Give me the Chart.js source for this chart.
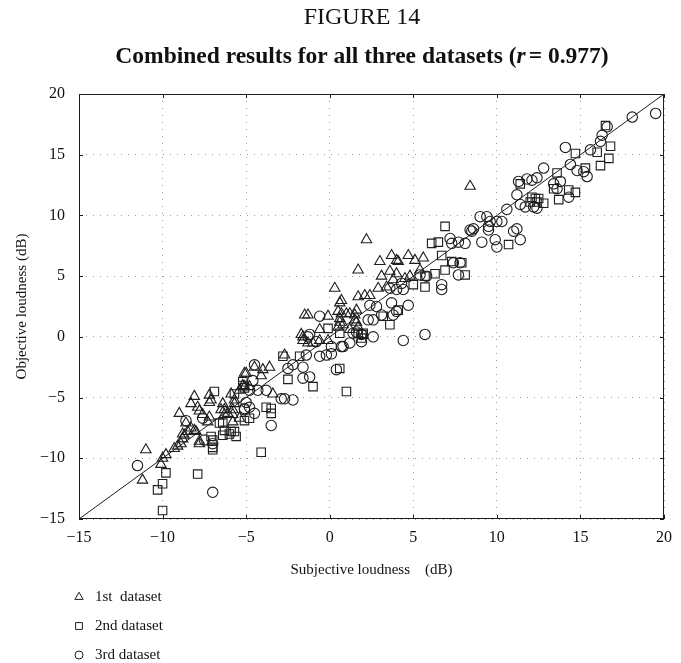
<!DOCTYPE html>
<html>
<head>
<meta charset="utf-8">
<script src="https://cdn.jsdelivr.net/npm/chart.js@4.4.1/dist/chart.umd.min.js"></script>
<style>
  html, body { margin: 0; padding: 0; background: #fff; }
  #wrap { position: relative; width: 681px; height: 663px; }
</style>
</head>
<body>
<div id="wrap"><canvas id="chart" width="681" height="663"></canvas></div>
<script>
// Valeurs : [subjectif, objectif] en dB
const FIGURE_LABEL = "FIGURE 14";
const TITLE_START = "Combined results for all three datasets (";
const TITLE_R = "r";
const TITLE_END = "= 0.977)";
const X_TITLE = "Subjective loudness    (dB)";
const Y_TITLE = "Objective loudness (dB)";
const LEGEND_LABELS = ["1st  dataset", "2nd dataset", "3rd dataset"];
const X_TICKS = [-15, -10, -5, 0, 5, 10, 15, 20];
const Y_TICKS = [-15, -10, -5, 0, 5, 10, 15, 20];
const DIAGONAL = [-15, 20];

const dataset1 = [
  [-11.0, -9.3], [-11.2, -11.8], [-10.0, -10.0], [-10.1, -10.5], [-9.8, -9.7], [-9.3, -9.2],
  [-9.1, -9.0], [-8.9, -8.8], [-8.8, -8.4], [-8.7, -8.1], [-8.5, -7.8], [-8.3, -7.5],
  [-8.1, -4.9], [-8.3, -5.5], [-9.0, -6.3], [-7.9, -5.8], [-7.8, -6.1], [-7.6, -6.4],
  [-7.2, -6.6], [-7.3, -7.0], [-8.0, -7.8], [-7.8, -8.8], [-7.2, -4.8], [-7.1, -5.2],
  [-6.4, -5.5], [-6.3, -6.0], [-6.1, -6.3], [-5.8, -6.0], [-5.7, -5.5], [-5.8, -7.0],
  [-5.1, -3.0], [-5.1, -4.1], [-1.5, 1.8], [-1.3, 1.8], [0.6, 2.8], [0.7, 1.9], [0.6, 1.2],
  [1.2, 1.9], [1.5, 1.8], [1.6, 1.2], [1.7, 0.8], [-0.6, 0.6], [-1.6, 0.0], [-1.3, -0.5],
  [-1.0, -0.5], [-2.7, -1.5], [-4.5, -2.5], [-5.0, -3.0], [-4.0, -2.7], [-3.6, -2.5],
  [-4.1, -3.2], [-5.2, -4.0], [-4.8, -4.1], [-5.4, -4.4], [-7.2, -5.4], [-5.9, -4.7],
  [-5.7, -5.2], [-6.5, -6.0], [-6.3, -6.4], [-5.8, -6.4], [-5.4, -6.7], [-8.6, -7.1],
  [-8.1, -7.7], [-8.8, -8.0], [-7.8, -8.6], [-3.4, -4.7], [2.2, 8.0], [1.7, 5.5], [0.3, 4.0],
  [0.7, 3.0], [1.7, 3.3], [2.1, 3.4], [2.4, 3.4], [3.0, 6.2], [3.7, 6.7], [4.0, 6.3],
  [4.1, 6.2], [4.7, 6.7], [5.1, 6.3], [5.6, 6.5], [3.1, 5.0], [3.6, 5.4], [4.0, 5.2],
  [2.9, 4.0], [3.4, 4.1], [3.8, 4.7], [4.5, 4.8], [4.8, 5.0], [5.4, 5.5], [0.5, 2.1],
  [1.0, 1.9], [1.6, 2.2], [-0.1, 1.7], [0.6, 1.5], [1.5, 1.4], [0.5, 0.8], [0.8, 1.0],
  [1.2, 0.6], [-1.7, 0.2], [-1.6, -0.3], [-0.6, -0.3], [-0.1, -0.3], [8.4, 12.4]
];

const dataset2 = [
  [-10.0, -14.3], [-10.3, -12.6], [-10.0, -12.1], [-9.8, -11.2], [-7.9, -11.3], [-7.0, -9.3],
  [-7.0, -8.5], [-6.9, -4.5], [-6.6, -7.1], [-6.4, -8.1], [-6.3, -7.7], [-6.0, -8.0],
  [-5.7, -7.8], [-5.6, -8.2], [-5.7, -4.7], [-5.2, -4.0], [-5.1, -6.9], [-2.8, -1.6],
  [-5.2, -3.7], [-5.1, -4.2], [-2.5, -3.5], [-1.0, -4.1], [0.6, -2.6], [1.0, -4.5],
  [1.7, 0.3], [2.0, 0.2], [-0.1, 0.7], [-1.8, -1.6], [-3.8, -5.8], [-3.5, -5.9], [-3.5, -6.3],
  [-4.8, -6.7], [-6.4, -7.1], [-5.9, -7.8], [-7.1, -8.2], [-7.0, -9.1], [-4.1, -9.5],
  [6.9, 9.1], [6.1, 7.7], [6.5, 7.8], [6.7, 6.7], [7.3, 6.2], [7.9, 6.1], [5.7, 5.0],
  [6.3, 5.2], [6.9, 5.5], [8.1, 5.1], [5.0, 4.3], [5.7, 4.1], [3.2, 1.7], [3.6, 1.0],
  [4.1, 2.2], [0.6, 0.3], [2.0, 0.3], [1.9, -0.1], [16.8, 15.7], [16.7, 14.7], [16.2, 14.1],
  [14.7, 15.1], [16.0, 15.2], [15.3, 13.9], [11.4, 12.6], [13.6, 13.5], [13.4, 12.2],
  [14.3, 12.1], [14.7, 11.9], [13.7, 11.3], [12.8, 11.0], [12.1, 11.5], [12.3, 11.4],
  [12.5, 11.4], [12.0, 11.1], [12.4, 11.1], [10.7, 7.6], [16.5, 17.4]
];

const dataset3 = [
  [-11.5, -10.6], [-8.6, -6.9], [-7.5, -8.5], [-7.0, -8.8], [-7.0, -12.8], [-5.1, -6.0],
  [-0.6, 1.7], [-1.3, 0.0], [-0.8, -0.4], [-1.4, -1.5], [-0.6, -1.6], [-0.2, -1.5],
  [0.1, -1.4], [0.7, -0.8], [1.2, -0.5], [1.9, -0.4], [2.4, 2.6], [-4.5, -2.3], [-2.5, -2.6],
  [-2.2, -2.3], [-1.6, -2.5], [-1.6, -3.4], [-1.2, -3.3], [0.4, -2.7], [-4.6, -3.6],
  [-4.8, -4.4], [-4.3, -4.4], [-3.8, -4.4], [-2.9, -5.1], [-2.7, -5.1], [-2.2, -5.2],
  [-5.1, -5.9], [-5.0, -5.4], [-4.8, -5.8], [-3.5, -7.3], [-7.6, -6.7], [-4.5, -6.3],
  [9.0, 9.9], [9.4, 9.9], [8.5, 8.7], [8.1, 7.7], [9.1, 7.8], [9.5, 8.8], [7.3, 7.7],
  [7.7, 7.8], [7.2, 8.1], [7.4, 6.1], [7.8, 6.1], [7.7, 5.1], [6.7, 4.3], [6.7, 3.9],
  [5.4, 5.1], [5.8, 5.0], [4.3, 4.4], [3.6, 4.0], [4.0, 3.9], [4.4, 3.9], [2.8, 2.5],
  [3.7, 2.8], [4.7, 2.6], [3.8, 1.8], [4.0, 2.1], [3.1, 1.8], [2.6, 1.4], [2.3, 1.4],
  [2.6, 0.0], [4.4, -0.3], [5.7, 0.2], [1.4, 0.3], [1.6, 0.4], [1.9, 0.2], [0.1, -0.8],
  [0.8, -0.8], [-1.2, 0.2], [14.1, 15.6], [15.6, 15.4], [16.2, 16.1], [12.8, 13.9],
  [12.4, 13.1], [11.8, 13.0], [11.3, 12.8], [12.1, 12.9], [14.4, 14.2], [14.8, 13.7],
  [15.2, 13.6], [15.4, 13.2], [13.4, 12.6], [13.8, 12.8], [13.6, 12.2], [14.3, 11.5],
  [11.2, 11.7], [11.4, 10.9], [11.7, 10.7], [12.2, 10.7], [12.4, 10.6], [10.6, 10.5],
  [9.6, 9.5], [10.0, 9.5], [10.3, 9.5], [8.4, 8.8], [8.6, 8.9], [9.5, 9.1], [11.2, 8.9],
  [11.0, 8.7], [11.4, 8.0], [9.9, 8.0], [10.0, 7.4], [19.5, 18.4], [18.1, 18.1],
  [16.6, 17.3], [16.3, 16.6]
];

const INK = "#1e1e1e";
const SERIF = "'Liberation Serif', 'Times New Roman', serif";
const TITLE_CENTER_X = 362;
const MARKERS = [
  { style: "triangle", radius: 6 },
  { style: "rect", radius: 6 },
  { style: "circle", radius: 5.2 }
];

const toPoints = (pairs) => pairs.map(([x, y]) => ({ x, y }));
const formatTick = (value) => (value < 0 ? `\u2212${Math.abs(value)}` : String(value));

const scatterSet = (label, pairs, marker) => ({
  type: "scatter",
  label,
  data: toPoints(pairs),
  pointStyle: marker.style,
  pointRadius: marker.radius,
  pointBorderWidth: 1.1,
  borderColor: INK,
  backgroundColor: "rgba(0,0,0,0)"
});

// Titres, cadre, petites graduations intérieures et légende
const decorPlugin = {
  id: "decor",
  afterDraw(chart) {
    const { ctx, chartArea: area, scales } = chart;
    ctx.save();

    ctx.strokeStyle = INK;
    ctx.lineWidth = 1;
    ctx.strokeRect(area.left + 0.5, area.top + 0.5, area.right - area.left - 1, area.bottom - area.top - 1);

    const tick = 4;
    ctx.beginPath();
    X_TICKS.forEach((v) => {
      const px = Math.round(scales.x.getPixelForValue(v)) + 0.5;
      ctx.moveTo(px, area.top); ctx.lineTo(px, area.top + tick);
      ctx.moveTo(px, area.bottom); ctx.lineTo(px, area.bottom - tick);
    });
    Y_TICKS.forEach((v) => {
      const py = Math.round(scales.y.getPixelForValue(v)) + 0.5;
      ctx.moveTo(area.left, py); ctx.lineTo(area.left + tick, py);
      ctx.moveTo(area.right, py); ctx.lineTo(area.right - tick, py);
    });
    ctx.stroke();

    ctx.fillStyle = "#111";
    ctx.textBaseline = "middle";
    ctx.textAlign = "center";
    ctx.font = `24px ${SERIF}`;
    ctx.fillText(FIGURE_LABEL, TITLE_CENTER_X, 18);

    const boldFont = `bold 23.5px ${SERIF}`;
    const italicFont = `italic bold 23.5px ${SERIF}`;
    ctx.font = boldFont;
    const w1 = ctx.measureText(TITLE_START).width;
    const w3 = ctx.measureText(TITLE_END).width;
    ctx.font = italicFont;
    const w2 = ctx.measureText(TITLE_R).width + 3;
    const tx = TITLE_CENTER_X - (w1 + w2 + w3) / 2;
    ctx.textAlign = "left";
    ctx.font = boldFont;
    ctx.fillText(TITLE_START, tx, 57);
    ctx.font = italicFont;
    ctx.fillText(TITLE_R, tx + w1, 57);
    ctx.font = boldFont;
    ctx.fillText(TITLE_END, tx + w1 + w2, 57);

    ctx.font = `15px ${SERIF}`;
    ctx.textAlign = "center";
    ctx.fillText(X_TITLE, (area.left + area.right) / 2, 570);

    ctx.save();
    ctx.translate(22, (area.top + area.bottom) / 2);
    ctx.rotate(-Math.PI / 2);
    ctx.fillText(Y_TITLE, 0, 0);
    ctx.restore();

    ctx.textAlign = "left";
    LEGEND_LABELS.forEach((label, i) => {
      const y = 597 + i * 29;
      ctx.fillStyle = "#fff";
      ctx.strokeStyle = INK;
      Chart.helpers.drawPoint(ctx, {
        pointStyle: MARKERS[i].style,
        radius: MARKERS[i].radius - 1.2,
        borderWidth: 1
      }, 79, y);
      ctx.fillStyle = "#111";
      ctx.fillText(label, 95, y);
    });

    ctx.restore();
  }
};

new Chart(document.getElementById("chart"), {
  type: "scatter",
  data: {
    datasets: [
      scatterSet(LEGEND_LABELS[0], dataset1, MARKERS[0]),
      scatterSet(LEGEND_LABELS[1], dataset2, MARKERS[1]),
      scatterSet(LEGEND_LABELS[2], dataset3, MARKERS[2]),
      {
        type: "line",
        label: "y = x",
        data: DIAGONAL.map((v) => ({ x: v, y: v })),
        borderColor: INK,
        borderWidth: 1,
        pointRadius: 0,
        fill: false
      }
    ]
  },
  options: {
    responsive: false,
    animation: false,
    layout: { padding: { left: 0, top: 94, right: 9, bottom: 114 } },
    plugins: { legend: { display: false }, tooltip: { enabled: false } },
    scales: {
      x: {
        type: "linear",
        min: -15,
        max: 20,
        afterBuildTicks: (scale) => { scale.ticks = X_TICKS.map((value) => ({ value })); },
        afterFit: (scale) => { scale.height = 30; },
        grid: { color: "#9c9c9c", lineWidth: 1, drawTicks: false },
        border: { display: false, dash: [1, 6] },
        ticks: {
          padding: 9,
          color: "#111",
          font: { family: SERIF, size: 16 },
          maxRotation: 0,
          callback: formatTick
        }
      },
      y: {
        type: "linear",
        min: -15,
        max: 20,
        afterBuildTicks: (scale) => { scale.ticks = Y_TICKS.map((value) => ({ value })); },
        afterFit: (scale) => { scale.width = 79; },
        grid: { color: "#9c9c9c", lineWidth: 1, drawTicks: false },
        border: { display: false, dash: [1, 6] },
        ticks: {
          padding: 14,
          color: "#111",
          font: { family: SERIF, size: 16 },
          callback: formatTick
        }
      }
    }
  },
  plugins: [decorPlugin]
});
</script>
</body>
</html>
